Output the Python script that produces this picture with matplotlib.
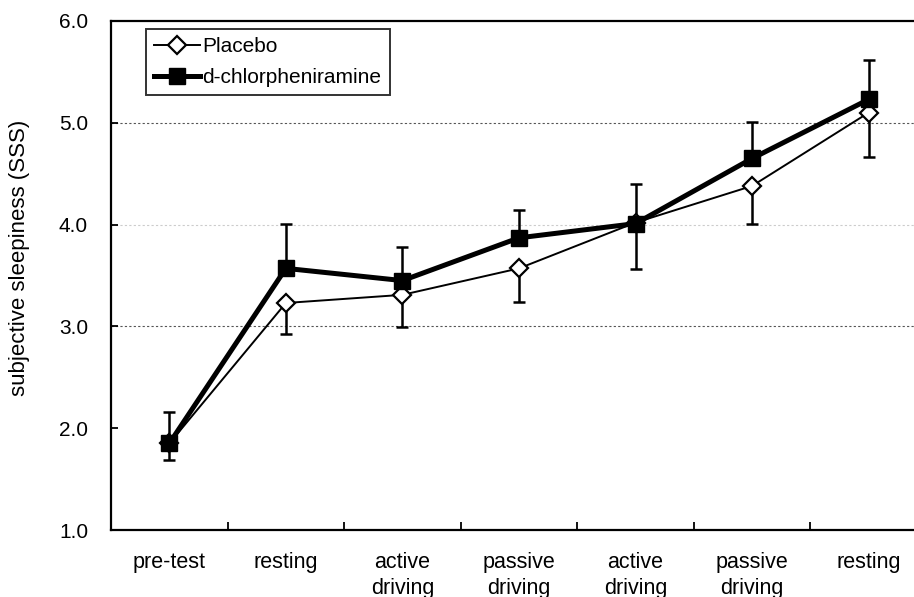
import matplotlib.pyplot as plt
import numpy as np

plt.rcParams["font.family"] = ["Liberation Sans", "DejaVu Sans"]

# data
phases = ["pre-test", "resting", "active\ndriving", "passive\ndriving",
          "active\ndriving", "passive\ndriving", "resting"]
placebo = [1.85, 3.23, 3.31, 3.57, 4.02, 4.38, 5.10]
placebo_err = [0.16, 0.30, 0.32, 0.33, 0.46, 0.37, 0.44]   # drawn downward
chlor = [1.85, 3.57, 3.45, 3.87, 4.01, 4.65, 5.23]
chlor_err = [0.31, 0.44, 0.33, 0.27, 0.39, 0.36, 0.39]      # drawn upward

x = np.arange(len(phases))

fig = plt.figure(figsize=(9.14, 5.97), dpi=100)
ax = fig.add_axes([111 / 914, 1 - 530 / 597, (927 - 111) / 914, (530 - 21) / 597])

# grid lines
for yv, col in [(5.0, "#555555"), (3.0, "#555555"), (4.0, "#cccccc")]:
    ax.axhline(yv, color=col, lw=0.8, ls=(0, (2, 2)), zorder=0)

# error bars
ax.errorbar(x, placebo, yerr=[placebo_err, [0] * len(x)], fmt="none",
            ecolor="black", elinewidth=1.8, capsize=4.2, capthick=1.8, zorder=2)
ax.errorbar(x, chlor, yerr=[[0] * len(x), chlor_err], fmt="none",
            ecolor="black", elinewidth=1.8, capsize=4.2, capthick=1.8, zorder=2)

ax.plot(x, placebo, color="black", lw=1.4, marker="D", markersize=9,
        markerfacecolor="white", markeredgecolor="black", markeredgewidth=1.6,
        label="Placebo", zorder=3)
ax.plot(x, chlor, color="black", lw=3.6, marker="s", markersize=12,
        markerfacecolor="black", markeredgecolor="black",
        label="d-chlorpheniramine", zorder=4)

ax.set_xlim(-0.5, 6.5)
ax.set_ylim(1.0, 6.0)
ax.set_yticks([1.0, 2.0, 3.0, 4.0, 5.0, 6.0])
ax.set_yticklabels(["1.0", "2.0", "3.0", "4.0", "5.0", "6.0"], fontsize=15)
ax.tick_params(axis="y", direction="in", length=5, width=1.3, pad=16.5)

ax.set_xticks(x)
ax.set_xticklabels(phases, fontsize=15.5, linespacing=1.3)
ax.set_xticks(np.arange(0.5, 6.0, 1.0), minor=True)
ax.tick_params(axis="x", which="major", length=0, pad=16)
ax.tick_params(axis="x", which="minor", direction="in", length=6, width=1.3)

for s in ax.spines.values():
    s.set_linewidth(1.6)

ax.set_ylabel("subjective sleepiness (SSS)", fontsize=16)
ax.yaxis.set_label_coords(-0.0993, 0.535)

leg = ax.legend(loc="upper left", bbox_to_anchor=(0.043, 0.984), fontsize=15,
                frameon=True, fancybox=False, edgecolor="black",
                handlelength=2.2, handletextpad=0.1, borderpad=0.4,
                labelspacing=0.55, borderaxespad=0)
leg.get_frame().set_linewidth(1.4)

fig.savefig("out.png", dpi=100)
